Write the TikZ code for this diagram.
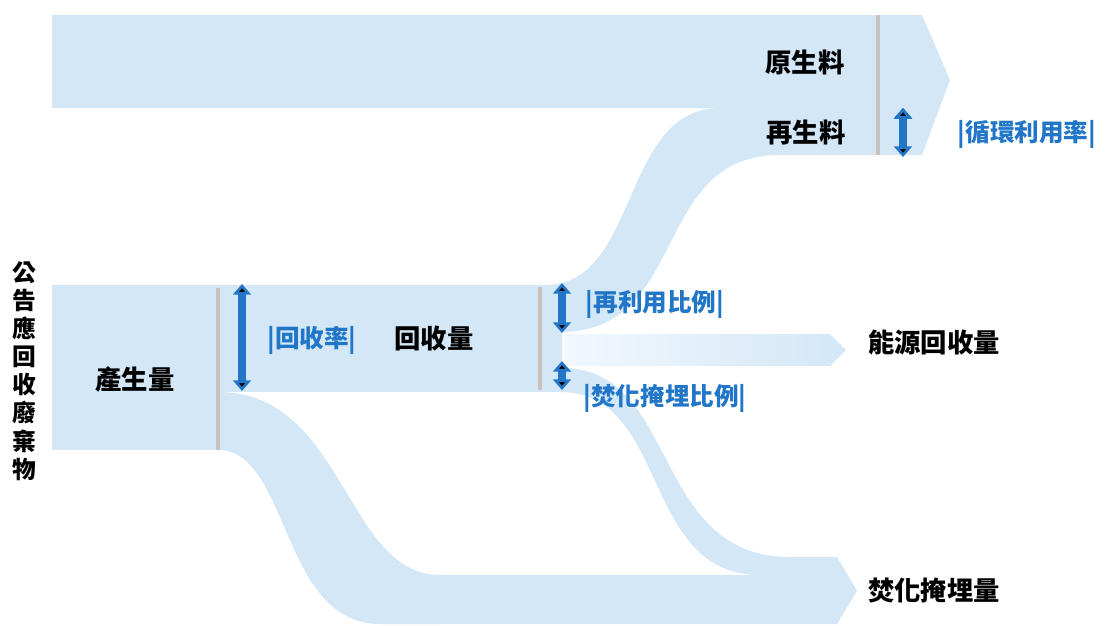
\documentclass[tikz,border=0pt]{standalone}
\usepackage{fontspec}
\newfontfamily\cjk{Noto Sans CJK TC}
\usetikzlibrary{arrows.meta}
\definecolor{flowblue}{RGB}{211,231,247}
\definecolor{rateblue}{RGB}{33,118,200}
\definecolor{splitgray}{RGB}{202,192,188}

\begin{document}
\begin{tikzpicture}[x=0.02cm,y=-0.02cm, flow/.style={fill=flowblue,draw=none}, split line/.style={draw=splitgray,line width=2.6pt}, rate arrow/.style={draw=rateblue,line width=5pt,{Triangle[width=10pt,length=6pt]}-{Triangle[width=10pt,length=6pt]}}, main node/.style={font=\cjk\bfseries\fontsize{15}{18}\selectfont,text=black,inner sep=0pt}, rate node/.style={font=\cjk\bfseries\fontsize{14}{16}\selectfont,text=rateblue,inner sep=0pt}]

  \useasboundingbox (0,0) rectangle (1107,626);

  % bands
  \fill[flow] (52,15) rectangle (922,108);
  \fill[flow] (922,15) -- (950,80) -- (922,155) -- cycle;
  \fill[flow] (545,285) .. controls (640,285) and (620,108) .. (720,108) -- (922,108) -- (922,155) -- (780,155) .. controls (650,155) and (690,332) .. (560,332) -- cycle;
  \fill[flow] (52,285) rectangle (218,450);
  \fill[flow] (218,285) rectangle (562,392);
  \shade[left color=flowblue!30,right color=flowblue] (565,334) -- (830,334) -- (846,350) -- (830,366) -- (565,366) -- cycle;
  \fill[flow] (218,392) .. controls (345,392) and (345,575) .. (440,575) -- (440,624) -- (380,624) .. controls (280,624) and (290,450) .. (218,450) -- cycle;
  \fill[flow] (562,368) .. controls (680,368) and (650,557) .. (790,557) -- (790,575) -- (760,575) .. controls (640,575) and (670,392) .. (560,392) -- cycle;
  \fill[flow] (380,575) -- (790,575) -- (790,557) -- (837,557) -- (857,591) -- (837,624) -- (380,624) -- cycle;

  % split lines and rates
  \coordinate (s1t) at (218,288);
  \coordinate (s1b) at (218,450);
  \coordinate (s2t) at (540,287);
  \coordinate (s2b) at (540,390);
  \coordinate (s3t) at (878,15);
  \coordinate (s3b) at (878,155);
  \path[split line]
       (s1t) edge (s1b)
       (s2t) edge (s2b)
       (s3t) edge (s3b);

  \coordinate (r1t) at (242,284);
  \coordinate (r1b) at (242,391);
  \coordinate (r2t) at (562,283);
  \coordinate (r2b) at (562,333);
  \coordinate (r3t) at (562,361);
  \coordinate (r3b) at (562,390);
  \coordinate (r4t) at (903,108);
  \coordinate (r4b) at (903,157);
  \path[rate arrow]
       (r1t) edge (r1b)
       (r2t) edge (r2b)
       (r3t) edge (r3b)
       (r4t) edge (r4b);

  \node[main node, font=\cjk\bfseries\fontsize{13.5}{16}\selectfont, align=center] (waste) at (24,371) {公\\告\\應\\回\\收\\廢\\棄\\物};
  \node[main node] (virgin) at (805,62) {原生料};
  \node[main node] (second) at (806,132) {再生料};
  \node[main node] (gen) at (135,379) {產生量};
  \node[main node] (rec) at (434,339) {回收量};
  \node[main node] (energy) at (934,343) {能源回收量};
  \node[main node] (burn) at (934,590) {焚化掩埋量};

  \node[rate node] (recrate) at (312,340) {|回收率|};
  \node[rate node] (reuse) at (655,304) {|再利用比例|};
  \node[rate node] (burnrate) at (665,398) {|焚化掩埋比例|};
  \node[rate node] (circ) at (1027,134) {|循環利用率|};
\end{tikzpicture}
\end{document}
